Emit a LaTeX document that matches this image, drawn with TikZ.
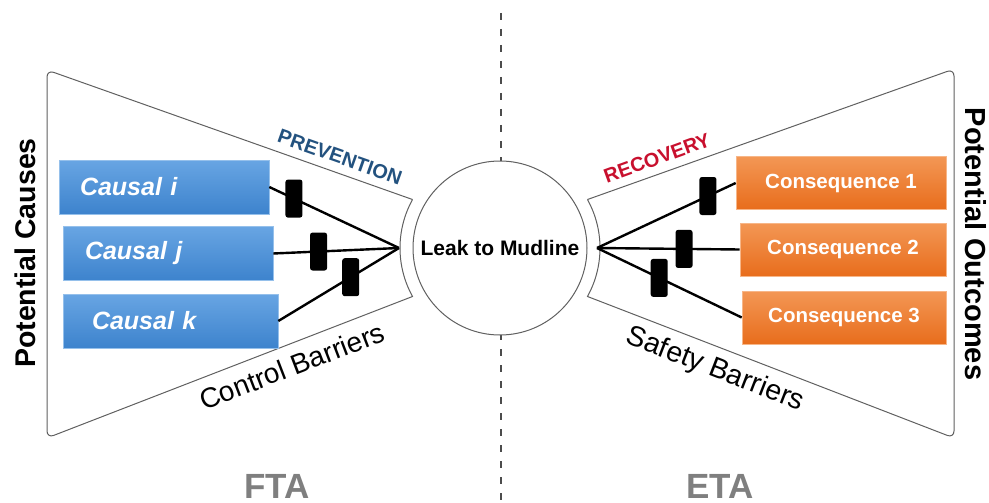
\documentclass[tikz,border=0pt]{standalone}
\usepackage{fontspec}
\setmainfont{Liberation Sans}
\usetikzlibrary{calc}
\definecolor{blueTop}{HTML}{68A5E3}
\definecolor{blueBot}{HTML}{3D83CD}
\definecolor{orTop}{HTML}{F39755}
\definecolor{orBot}{HTML}{E86D1C}
\definecolor{prevBlue}{HTML}{23527F}
\definecolor{recRed}{HTML}{C8102E}
\definecolor{outl}{HTML}{606060}
\definecolor{labGray}{HTML}{7F7F7F}
\newcommand\fsz[1]{\fontsize{#1}{#1}\selectfont}
\begin{document}
\begin{tikzpicture}[x=1pt,y=-1pt,
  outline/.style={draw=outl,line width=1pt},
  causebox/.style={top color=blueTop,bottom color=blueBot,draw=blueTop!70!white,line width=0.6pt,
    minimum height=54,text=white,font=\fsz{25}\bfseries\itshape,align=left,inner ysep=0pt},
  consbox/.style={top color=orTop,bottom color=orBot,draw=orTop!70!white,line width=0.6pt,
    minimum height=53,text=white,font=\fsz{20.5}\bfseries,inner sep=0pt},
  conn/.style={line width=2.4pt,black},
  barrier/.style={fill=black,rounded corners=2.5pt,minimum width=17,minimum height=38,inner sep=0pt},
  edgelab/.style={inner sep=0pt}
]
\useasboundingbox (0,0) rectangle (989,503);
\coordinate (ctr) at (500,248);
% vertical dashed separator
\coordinate (vtop) at (501,13);
\coordinate (vbot) at (501,500);
\draw[draw=black!70,line width=2.4pt,dash pattern=on 7pt off 9pt] (vtop) -- (vbot);
% left trapezoid (FTA)
\draw[outline] ($(ctr)+(209:100)$) arc[start angle=209,end angle=151,radius=100]
  [rounded corners=7pt] -- (47,438) -- (47,70) -- ($(ctr)+(209:100)$);
% right trapezoid (ETA)
\draw[outline] ($(ctr)+(-29:100)$) arc[start angle=-29,end angle=29,radius=100]
  [rounded corners=7pt] -- (954,438) -- (954,69) -- ($(ctr)+(-29:100)$);
% central event
\node[circle,draw=outl,line width=1pt,fill=white,minimum size=174,inner sep=0pt,
  font=\fsz{21}\bfseries] (leak) at (ctr) {Leak to Mudline};
% causes
\node[causebox,inner xsep=21,text width=168] (ci) at (164,187) {Causal i};
\node[causebox,inner xsep=22,text width=166] (cj) at (168,253.5) {Causal j};
\node[causebox,inner xsep=29,text width=157] (ck) at (170.5,321) {Causal k};
% consequences
\node[consbox,minimum width=210] (q1) at (841,183) {Consequence 1};
\node[consbox,minimum width=206] (q2) at (843,249.5) {Consequence 2};
\node[consbox,minimum width=204] (q3) at (844,317.5) {Consequence 3};
% apexes
\coordinate (apL) at (399,248);
\coordinate (apR) at (597,248);
% connectors with barriers
\draw[conn] (ci.east) -- (apL) node[barrier,pos=0.19] (b1) {};
\draw[conn] (cj.east) -- (apL) node[barrier,pos=0.36] (b2) {};
\draw[conn] (ck.east) -- (apL) node[barrier,pos=0.60] (b3) {};
\draw[conn] (apR) -- (q1.west) node[barrier,pos=0.80] (b4) {};
\draw[conn] (apR) -- (q2.west) node[barrier,pos=0.61] (b5) {};
\draw[conn] (apR) -- (q3.west) node[barrier,pos=0.43] (b6) {};
% labels
\node[edgelab,font=\fsz{28.5}\bfseries,rotate=90] (pc) at (25,253) {Potential Causes};
\node[edgelab,font=\fsz{29}\bfseries,rotate=-90] (po) at (976,244) {Potential Outcomes};
\node[edgelab,font=\fsz{20}\bfseries,text=prevBlue,rotate=-19.5] (prev) at (340,157) {PREVENTION};
\node[edgelab,font=\fsz{20}\bfseries,text=recRed,rotate=19.9] (rec) at (657,158) {RECOVERY};
\node[edgelab,font=\fsz{28},rotate=21] (cb) at (292,366) {Control Barriers};
\node[edgelab,font=\fsz{28.5},rotate=-21.2] (sb) at (715,370) {Safety Barriers};
\node[edgelab,font=\fsz{35}\bfseries,text=labGray,anchor=base] (fta) at (277,498) {FTA};
\node[edgelab,font=\fsz{35}\bfseries,text=labGray,anchor=base] (eta) at (720,498) {ETA};
\end{tikzpicture}
\end{document}
